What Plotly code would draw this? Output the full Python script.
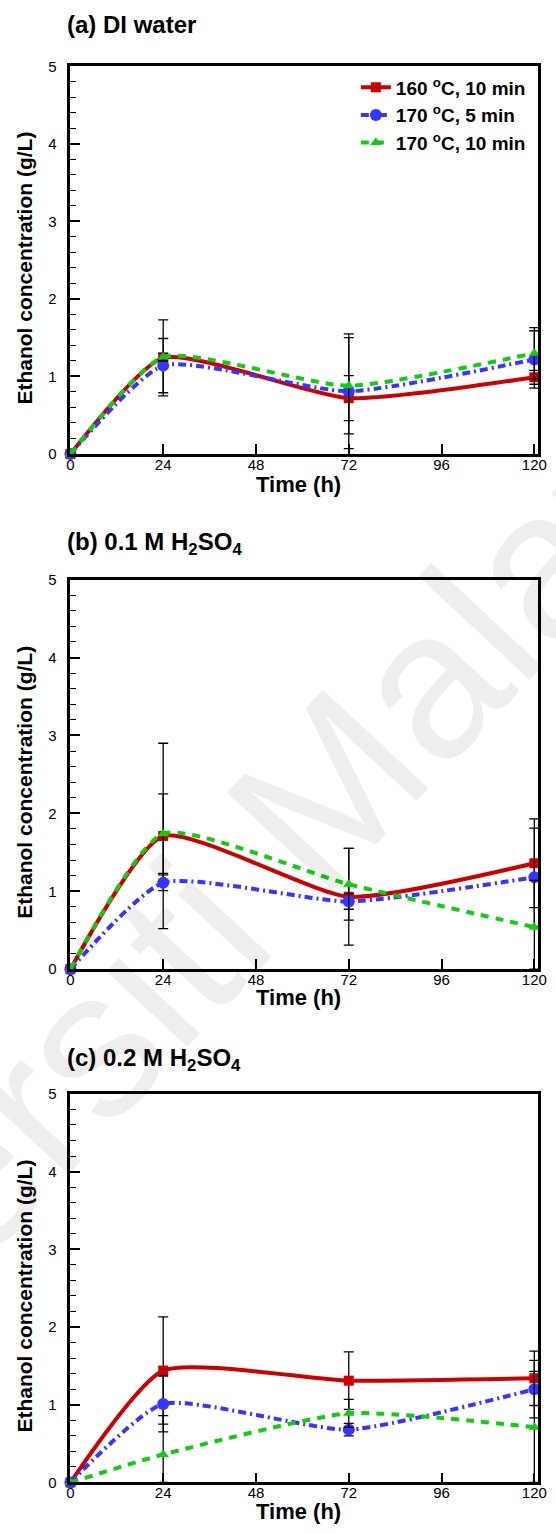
import plotly.graph_objects as go

# ---------------- data ----------------
time_h = [0, 24, 72, 120]
series_names = ["160 <sup>o</sup>C, 10 min", "170 <sup>o</sup>C, 5 min", "170 <sup>o</sup>C, 10 min"]

# (a) DI water
a_160_10 = [0, 1.24, 0.72, 0.99]
a_160_10_err = [0, 0.49, 0.29, 0.09]
a_170_5 = [0, 1.14, 0.81, 1.22]
a_170_5_err = [0, 0.35, 0.74, 0.37]
a_170_10 = [0, 1.25, 0.88, 1.30]
a_170_10_err = [0, 0.05, 0.62, 0.33]

# (b) 0.1 M H2SO4
b_160_10 = [0, 1.71, 0.93, 1.36]
b_160_10_err = [0, 1.19, 0.62, 0.57]
b_170_5 = [0, 1.11, 0.87, 1.18]
b_170_5_err = [0, 0.10, 0.10, 0.63]
b_170_10 = [0, 1.74, 1.09, 0.54]
b_170_10_err = [0, 0.51, 0.46, 0.60]

# (c) 0.2 M H2SO4
c_160_10 = [0, 1.44, 1.31, 1.34]
c_160_10_err = [0, 0.69, 0.37, 0.35]
c_170_5 = [0, 1.01, 0.68, 1.20]
c_170_5_err = [0, 0.36, 0.08, 0.37]
c_170_10 = [0, 0.36, 0.89, 0.71]
c_170_10_err = [0, 0.50, 0.18, 0.72]

panel_titles = ["<b>(a) DI water</b>",
                "<b>(b) 0.1 M H<sub>2</sub>SO<sub>4</sub></b>",
                "<b>(c) 0.2 M H<sub>2</sub>SO<sub>4</sub></b>"]
x_title = "<b>Time (h)</b>"
y_title = "<b>Ethanol concentration (g/L)</b>"
x_ticks = [0, 24, 48, 72, 96, 120]
y_ticks = [0, 1, 2, 3, 4, 5]

panels = [
    [(a_160_10, a_160_10_err), (a_170_5, a_170_5_err), (a_170_10, a_170_10_err)],
    [(b_160_10, b_160_10_err), (b_170_5, b_170_5_err), (b_170_10, b_170_10_err)],
    [(c_160_10, c_160_10_err), (c_170_5, c_170_5_err), (c_170_10, c_170_10_err)],
]

# ---------------- styles ----------------
FONT = "Arial, 'Liberation Sans', sans-serif"
W, H = 556, 1533
styles = [
    dict(color="#cc0000", dash="solid", symbol="square", size=10),
    dict(color="#3535ff", dash="8px,4px,2px,4px", symbol="circle", size=12),
    dict(color="#11cc11", dash="8px,7px", symbol="triangle-up", size=10),
]
x_dom = [68 / W, 547 / W]
y_doms = [
    [1 - 450 / H, 1 - 58 / H],
    [1 - 971 / H, 1 - 577 / H],
    [1 - 1490 / H, 1 - 1097 / H],
]
title_y_px = [16, 540, 1062]
xtitle_y_px = [481, 1000, 1519]
ytitle_c_px = [(58 + 450) / 2 + 8, (577 + 971) / 2 + 8, (1097 + 1490) / 2 + 8]

fig = go.Figure()
for p, series in enumerate(panels):
    xa = "x" if p == 0 else f"x{p+1}"
    ya = "y" if p == 0 else f"y{p+1}"
    for s, (vals, err) in enumerate(series):
        st = styles[s]
        err_minus = [min(e, v) for v, e in zip(vals, err)]
        fig.add_trace(go.Scatter(
            x=time_h, y=vals, xaxis=xa, yaxis=ya,
            mode="lines+markers",
            name="<b>" + series_names[s] + "</b>",
            showlegend=(p == 0),
            line=dict(color=st["color"], width=4, dash=st["dash"], shape="spline", smoothing=0.55),
            marker=dict(color=st["color"], symbol=st["symbol"], size=st["size"]),
            error_y=dict(type="data", symmetric=False, array=err, arrayminus=err_minus,
                         color="black", thickness=1.3, width=5),
            cliponaxis=False,
        ))

layout = dict(
    width=W, height=H,
    margin=dict(l=0, r=0, t=0, b=0),
    paper_bgcolor="white", plot_bgcolor="rgba(0,0,0,0)",
    font=dict(family=FONT, color="black"),
    showlegend=True,
    legend=dict(x=0.648, y=1 - 60 / H, xanchor="left", yanchor="top",
                bgcolor="rgba(0,0,0,0)", font=dict(size=19, family=FONT),
                tracegroupgap=0, itemwidth=30),
    annotations=[],
)
for p in range(3):
    sx = "" if p == 0 else str(p + 1)
    layout["xaxis" + sx] = dict(
        domain=x_dom, range=[0, 121], anchor="y" + sx,
        tickmode="array", tickvals=x_ticks, ticktext=[str(t) for t in x_ticks],
        ticks="inside", ticklen=10, tickwidth=1.5, tickcolor="black",
        showline=True, linewidth=2.5, linecolor="black", mirror=True,
        showgrid=False, zeroline=False, ticklabelstandoff=-5,
        tickfont=dict(size=15, family=FONT),
    )
    layout["yaxis" + sx] = dict(
        domain=y_doms[p], range=[0, 5], anchor="x" + sx,
        tickmode="array", tickvals=y_ticks, ticktext=[str(t) for t in y_ticks],
        ticks="inside", ticklen=10, tickwidth=1.5, tickcolor="black",
        minor=dict(ticks="inside", ticklen=6, tickwidth=1.2, tickcolor="black", dtick=0.2, showgrid=False),
        showline=True, linewidth=2.5, linecolor="black", mirror=True,
        showgrid=False, zeroline=False, ticklabelstandoff=8,
        tickfont=dict(size=15, family=FONT),
    )
    layout["annotations"].append(dict(
        text=panel_titles[p], xref="paper", yref="paper",
        x=62 / W, y=1 - title_y_px[p] / H, xanchor="left", yanchor="middle",
        showarrow=False, font=dict(size=24, family=FONT, color="black"),
    ))
    layout["annotations"].append(dict(
        text=x_title, xref="paper", yref="paper",
        x=302 / W, y=1 - xtitle_y_px[p] / H, xanchor="center", yanchor="middle",
        showarrow=False, font=dict(size=22, family=FONT, color="black"),
    ))
    layout["annotations"].append(dict(
        text=y_title, xref="paper", yref="paper", textangle=-90,
        x=21 / W, y=1 - ytitle_c_px[p] / H, xanchor="center", yanchor="middle",
        showarrow=False, font=dict(size=21, family=FONT, color="black"),
    ))

# watermark
layout["annotations"].append(dict(
    text="Universiti Malaya", xref="paper", yref="paper",
    x=185 / W, y=1 - 945 / H, xanchor="center", yanchor="middle",
    showarrow=False, textangle=-47,
    font=dict(size=210, family=FONT, color="rgba(0,0,0,0.065)"),
))

fig.update_layout(**layout)
fig.write_html("out.html")
